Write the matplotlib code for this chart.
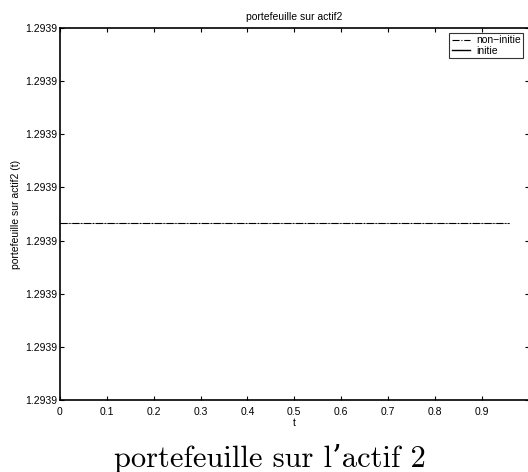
import matplotlib
matplotlib.use('Agg')
import matplotlib.pyplot as plt

# donnees (portefeuille constant)
t = [0.0, 0.958]
non_initie = [1.2938990, 1.2938990]
initie = [1.2938990, 1.2938990]
y_min, y_max = 1.29388, 1.29392
y_ticks = [1.29388 + i * (y_max - y_min) / 7 for i in range(8)]
x_ticks = [0, 0.1, 0.2, 0.3, 0.4, 0.5, 0.6, 0.7, 0.8, 0.9, 1.0]

plt.rcParams['font.family'] = ['Liberation Sans', 'DejaVu Sans']
fs = 7.5

fig = plt.figure(figsize=(5.28, 4.72), dpi=100)
ax = fig.add_axes([0.1136, 0.1525, 0.8875, 0.7882])

ax.plot(t, non_initie, color='black', linestyle='-.', linewidth=0.8, label='non\u2212initie')
ax.plot(t, initie, color='black', linestyle='-', linewidth=0.5, alpha=0.6, label='initie')

ax.set_xlim(0, 1)
ax.set_ylim(y_min, y_max)
ax.set_xticks(x_ticks)
ax.set_xticklabels(['0', '0.1', '0.2', '0.3', '0.4', '0.5', '0.6', '0.7', '0.8', '0.9', ''], fontsize=fs)
ax.set_yticks(y_ticks)
ax.set_yticklabels(['%.4f' % v for v in y_ticks], fontsize=fs)
ax.tick_params(direction='in', top=True, right=True, length=3, width=0.8)
ax.tick_params(axis='x', pad=5)
ax.tick_params(axis='y', pad=2)
for s in ax.spines.values():
    s.set_linewidth(1.2)

ax.set_title('portefeuille sur actif2', fontsize=fs, pad=6)
ax.set_xlabel('t', fontsize=fs, labelpad=1)
ax.set_ylabel('portefeuille sur actif2 (t)', fontsize=fs, labelpad=3)

leg = ax.legend(loc='upper right', fontsize=fs, frameon=True, fancybox=False,
                edgecolor='black', borderpad=0.2, labelspacing=0.05,
                handlelength=1.8, handletextpad=0.6, borderaxespad=0.5)
leg.get_frame().set_linewidth(0.8)
leg.get_lines()[1].set_alpha(1)
leg.get_lines()[1].set_linewidth(1.0)

fig.text(0.511, 0.011, "portefeuille sur l\u2019actif 2", ha='center', va='baseline',
         fontsize=22, family=['cmr10', 'DejaVu Serif'])

plt.savefig('out.png', dpi=100)
